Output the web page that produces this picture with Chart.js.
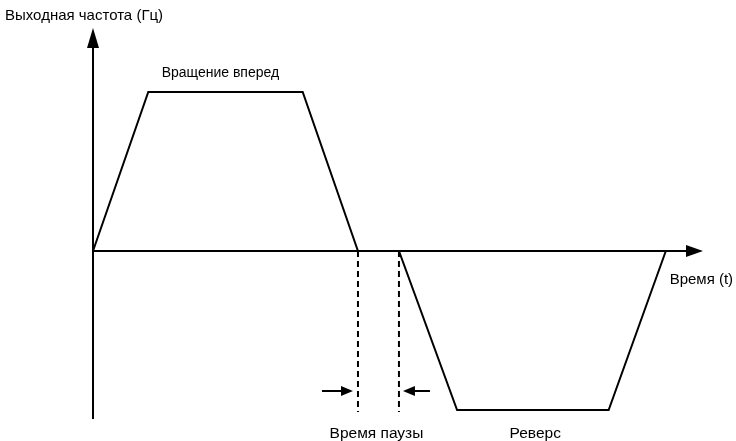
<!DOCTYPE html>
<html>
<head>
<meta charset="utf-8">
<script src="https://cdn.jsdelivr.net/npm/chart.js@4"></script>
<style>
  html, body { margin: 0; padding: 0; background: #fff; }
  #wrap { width: 736px; height: 441px; }
</style>
</head>
<body>
<div id="wrap"><canvas id="chart" width="736" height="441"></canvas></div>
<script>
// time in arbitrary units, frequency in Hz
const timePoints = [0, 2.9, 11, 13.9, 16.05, 19.1, 27.05, 30.05];
const freqValues = [0, 50, 50, 0, 0, -50, -50, 0];
const pauseStart = 13.9;
const pauseEnd = 16.05;
const pauseBottom = -50.6;
const pauseArrowLevel = -44;

const TIME_MAX = 32;
const FREQ_MIN = -52.8;
const FREQ_MAX = 70.1;

const LABEL_Y = 'Выходная частота (Гц)';
const LABEL_X = 'Время (t)';
const LABEL_FWD = 'Вращение вперед';
const LABEL_PAUSE = 'Время паузы';
const LABEL_REV = 'Реверс';

const FAMILY = '"Liberation Sans", Arial, sans-serif';

const profile = timePoints.map((t, i) => ({ x: t, y: freqValues[i] }));

function arrowHead(ctx, x, y, dir, len, half) {
  ctx.beginPath();
  if (dir === 'up') {
    ctx.moveTo(x, y);
    ctx.lineTo(x - half, y + len);
    ctx.lineTo(x + half, y + len);
  } else if (dir === 'right') {
    ctx.moveTo(x, y);
    ctx.lineTo(x - len, y - half);
    ctx.lineTo(x - len, y + half);
  } else {
    ctx.moveTo(x, y);
    ctx.lineTo(x + len, y - half);
    ctx.lineTo(x + len, y + half);
  }
  ctx.closePath();
  ctx.fill();
}

const diagramPlugin = {
  id: 'diagram',
  beforeDatasetsDraw(chart) {
    const { ctx, scales: { x, y } } = chart;
    const x0 = x.getPixelForValue(0);
    const y0 = y.getPixelForValue(0);
    ctx.save();
    ctx.strokeStyle = '#000';
    ctx.fillStyle = '#000';
    ctx.lineWidth = 2;
    // vertical axis
    const yTop = y.getPixelForValue(FREQ_MAX);
    ctx.beginPath();
    ctx.moveTo(x0, y.getPixelForValue(FREQ_MIN));
    ctx.lineTo(x0, yTop + 14);
    ctx.stroke();
    arrowHead(ctx, x0, yTop, 'up', 20, 6);
    // horizontal axis
    const xEnd = x.getPixelForValue(TIME_MAX);
    ctx.beginPath();
    ctx.moveTo(x0, y0);
    ctx.lineTo(xEnd - 12, y0);
    ctx.stroke();
    arrowHead(ctx, xEnd, y0, 'right', 17, 6);
    ctx.restore();
  },
  afterDatasetsDraw(chart) {
    const { ctx, scales: { x, y } } = chart;
    ctx.save();
    ctx.strokeStyle = '#000';
    ctx.fillStyle = '#000';
    ctx.lineWidth = 2;
    // pause arrows
    const ya = y.getPixelForValue(pauseArrowLevel);
    const xs = x.getPixelForValue(pauseStart);
    const xe = x.getPixelForValue(pauseEnd);
    ctx.beginPath();
    ctx.moveTo(xs - 36, ya);
    ctx.lineTo(xs - 10, ya);
    ctx.moveTo(xe + 31, ya);
    ctx.lineTo(xe + 10, ya);
    ctx.stroke();
    arrowHead(ctx, xs - 5, ya, 'right', 12, 5);
    arrowHead(ctx, xe + 4, ya, 'left', 12, 5);

    // labels
    ctx.textBaseline = 'middle';
    ctx.textAlign = 'left';
    ctx.font = '15px ' + FAMILY;
    ctx.fillText(LABEL_Y, 5, 16);
    ctx.font = '14px ' + FAMILY;
    ctx.fillText(LABEL_FWD, x.getPixelForValue(3.6), y.getPixelForValue(56));
    ctx.font = '15px ' + FAMILY;
    ctx.fillText(LABEL_X, x.getPixelForValue(30.25), y.getPixelForValue(-9.2));
    ctx.textAlign = 'center';
    ctx.font = '15.5px ' + FAMILY;
    ctx.fillText(LABEL_PAUSE, x.getPixelForValue(14.87), 434);
    ctx.fillText(LABEL_REV, x.getPixelForValue(23.2), 434);
    ctx.restore();
  }
};

new Chart(document.getElementById('chart'), {
  type: 'line',
  data: {
    datasets: [
      {
        data: profile,
        borderColor: '#000',
        borderWidth: 2,
        pointRadius: 0,
        tension: 0,
        clip: false,
      },
      {
        data: [{ x: pauseStart, y: 0 }, { x: pauseStart, y: pauseBottom }],
        borderColor: '#000',
        borderWidth: 2,
        borderDash: [6, 4],
        pointRadius: 0,
        clip: false,
      },
      {
        data: [{ x: pauseEnd, y: 0 }, { x: pauseEnd, y: pauseBottom }],
        borderColor: '#000',
        borderWidth: 2,
        borderDash: [6, 4],
        pointRadius: 0,
        clip: false,
      },
    ],
  },
  options: {
    responsive: false,
    animation: false,
    layout: { padding: { left: 93, right: 33, top: 28, bottom: 22 } },
    plugins: { legend: { display: false }, tooltip: { enabled: false } },
    scales: {
      x: { type: 'linear', min: 0, max: TIME_MAX, display: false },
      y: { type: 'linear', min: FREQ_MIN, max: FREQ_MAX, display: false },
    },
  },
  plugins: [diagramPlugin],
});
</script>
</body>
</html>
